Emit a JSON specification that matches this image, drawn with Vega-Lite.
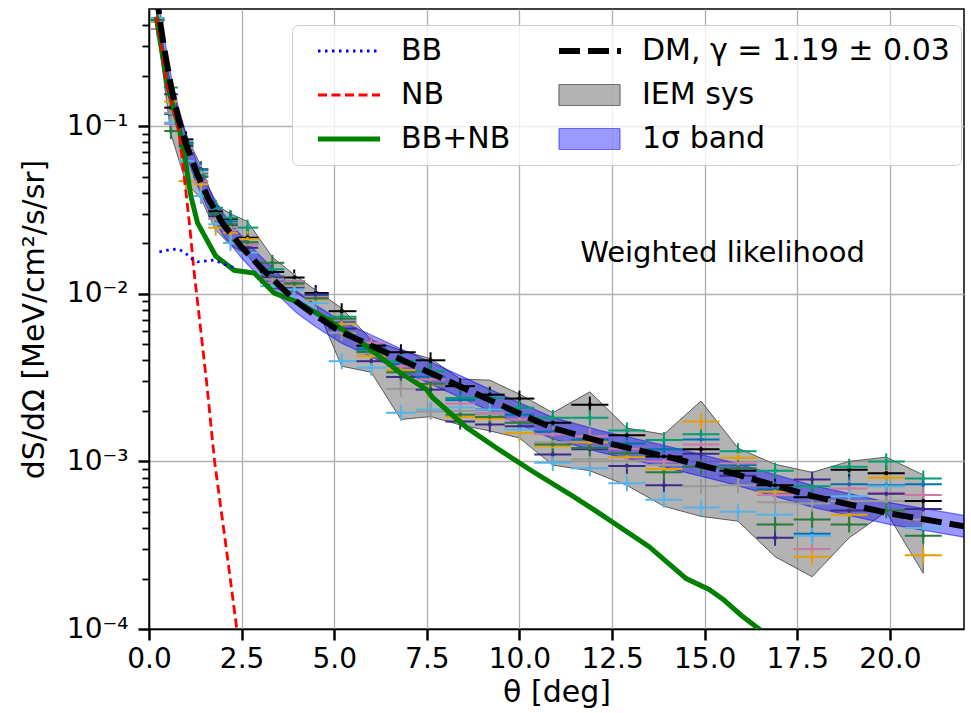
{
  "$schema": "https://vega.github.io/schema/vega-lite/v6.json",
  "autosize": {"type": "none"},
  "padding": {"left": 149, "top": 9, "right": 7, "bottom": 84},
  "width": 815,
  "height": 620,
  "background": "white",
  "config": {
    "view": {"stroke": "black", "strokeWidth": 1.5},
    "font": "DejaVu Sans",
    "axis": {"labelFont": "DejaVu Sans", "titleFont": "DejaVu Sans", "titleFontWeight": "normal", "labelColor": "black", "titleColor": "black", "tickColor": "black", "domainColor": "black", "domainWidth": 1.5, "gridColor": "#b0b0b0", "gridWidth": 1.3}
  },
  "datasets": {
    "iem": [
      {"t":0.23,"lo":0.375,"hi":0.45},{"t":0.59,"lo":0.09,"hi":0.175},{"t":1.0,"lo":0.046,"hi":0.088},{"t":1.4,"lo":0.037,"hi":0.058},
      {"t":1.8,"lo":0.024,"hi":0.034},{"t":2.2,"lo":0.0195,"hi":0.030},{"t":2.66,"lo":0.017,"hi":0.027},{"t":3.33,"lo":0.0108,"hi":0.0165},
      {"t":3.92,"lo":0.0103,"hi":0.013},{"t":4.5,"lo":0.0086,"hi":0.0105},{"t":5.2,"lo":0.0037,"hi":0.0082},{"t":6.0,"lo":0.0034,"hi":0.0053},
      {"t":6.8,"lo":0.00178,"hi":0.0046},{"t":7.6,"lo":0.00185,"hi":0.0041},{"t":8.4,"lo":0.00165,"hi":0.0031},{"t":9.2,"lo":0.00152,"hi":0.00305},
      {"t":10.0,"lo":0.00138,"hi":0.00252},{"t":10.9,"lo":0.00095,"hi":0.00195},{"t":11.9,"lo":0.00088,"hi":0.0026},{"t":12.9,"lo":0.00072,"hi":0.00158},
      {"t":13.9,"lo":0.00054,"hi":0.00145},{"t":14.9,"lo":0.00047,"hi":0.00229},{"t":15.9,"lo":0.00044,"hi":0.0012},{"t":16.9,"lo":0.00027,"hi":0.00096},
      {"t":17.9,"lo":0.000205,"hi":0.00086},{"t":18.9,"lo":0.00035,"hi":0.001},{"t":19.9,"lo":0.0005,"hi":0.00106},{"t":20.9,"lo":0.000215,"hi":0.00083}
    ],
    "band": [
      {"t":0.2,"lo":0.533,"hi":0.719},{"t":0.3,"lo":0.361,"hi":0.487},{"t":0.4,"lo":0.258,"hi":0.348},{"t":0.6,"lo":0.146,"hi":0.197},
      {"t":0.8,"lo":0.0946,"hi":0.1276},{"t":1.0,"lo":0.0671,"hi":0.0905},{"t":1.3,"lo":0.0447,"hi":0.0603},{"t":1.6,"lo":0.0318,"hi":0.0429},
      {"t":2.0,"lo":0.0224,"hi":0.0302},{"t":2.5,"lo":0.01634,"hi":0.02204},{"t":3.0,"lo":0.01247,"hi":0.01682},{"t":3.5,"lo":0.00972,"hi":0.01311},
      {"t":4.0,"lo":0.00765,"hi":0.01032},{"t":4.5,"lo":0.00636,"hi":0.00858},{"t":5.2,"lo":0.00507,"hi":0.00684},{"t":6.0,"lo":0.00421,"hi":0.00568},
      {"t":6.8,"lo":0.00348,"hi":0.0047},{"t":7.6,"lo":0.0029,"hi":0.00391},{"t":8.4,"lo":0.00241,"hi":0.00325},{"t":9.2,"lo":0.002,"hi":0.00269},
      {"t":10.0,"lo":0.00166,"hi":0.00224},{"t":10.9,"lo":0.00136,"hi":0.00183},{"t":12.16,"lo":0.001135,"hi":0.00153},{"t":13.95,"lo":0.00092,"hi":0.00124},
      {"t":15.75,"lo":0.000731,"hi":0.000986},{"t":17.91,"lo":0.000533,"hi":0.000719},{"t":19.98,"lo":0.000421,"hi":0.000568},{"t":22.0,"lo":0.000353,"hi":0.000476}
    ],
    "dm": [
      {"t":0.2,"v":0.62},{"t":0.3,"v":0.42},{"t":0.4,"v":0.30},{"t":0.6,"v":0.17},{"t":0.8,"v":0.11},{"t":1.0,"v":0.078},{"t":1.3,"v":0.052},
      {"t":1.6,"v":0.037},{"t":2.0,"v":0.026},{"t":2.5,"v":0.019},{"t":3.0,"v":0.0145},{"t":3.5,"v":0.0113},{"t":4.0,"v":0.0089},{"t":4.5,"v":0.0074},
      {"t":5.2,"v":0.0059},{"t":6.0,"v":0.0049},{"t":6.8,"v":0.00405},{"t":7.6,"v":0.00337},{"t":8.4,"v":0.0028},{"t":9.2,"v":0.00232},
      {"t":10.0,"v":0.00193},{"t":10.9,"v":0.00158},{"t":12.16,"v":0.00132},{"t":13.95,"v":0.00107},{"t":15.75,"v":0.00085},{"t":17.91,"v":0.00062},
      {"t":19.98,"v":0.00049},{"t":22.0,"v":0.00041}
    ],
    "bbnb": [
      {"t":0.2,"v":0.45},{"t":0.23,"v":0.40},{"t":0.5,"v":0.173},{"t":0.82,"v":0.096},{"t":0.99,"v":0.0605},{"t":1.13,"v":0.0383},{"t":1.31,"v":0.0265},
      {"t":1.8,"v":0.0168},{"t":2.3,"v":0.0138},{"t":2.84,"v":0.0133},{"t":3.38,"v":0.0101},{"t":3.83,"v":0.00925},{"t":4.06,"v":0.0088},{"t":4.96,"v":0.0067},
      {"t":5.86,"v":0.0049},{"t":6.76,"v":0.0034},{"t":7.48,"v":0.0027},{"t":7.66,"v":0.0024},{"t":8.56,"v":0.0016},{"t":9.46,"v":0.00117},{"t":10.36,"v":0.00087},
      {"t":11.44,"v":0.00062},{"t":12.16,"v":0.00049},{"t":13.5,"v":0.00031},{"t":14.5,"v":0.0002},{"t":15.12,"v":0.000172},{"t":15.5,"v":0.00015},
      {"t":16.0,"v":0.00012},{"t":16.6,"v":0.000095}
    ],
    "nb": [
      {"t":0.2,"v":0.45},{"t":0.5,"v":0.17},{"t":0.82,"v":0.09},{"t":0.95,"v":0.05},{"t":1.09,"v":0.0265},{"t":1.22,"v":0.0133},{"t":1.33,"v":0.0082},
      {"t":1.56,"v":0.0029},{"t":1.77,"v":0.001},{"t":2.08,"v":0.00031},{"t":2.37,"v":0.0001},{"t":2.45,"v":0.00008}
    ],
    "bb": [
      {"t":0.28,"v":0.0178},{"t":0.5,"v":0.0182},{"t":0.77,"v":0.0185},{"t":0.95,"v":0.0178},{"t":1.13,"v":0.0163},{"t":1.31,"v":0.0155},
      {"t":1.76,"v":0.0159},{"t":2.07,"v":0.0149},{"t":2.3,"v":0.0143}
    ],
    "bins": [
      {"b":0,"t":0.23,"lo":0.05,"hi":0.41},{"b":1,"t":0.59,"lo":0.41,"hi":0.78},{"b":2,"t":1.0,"lo":0.8,"hi":1.2},{"b":3,"t":1.4,"lo":1.2,"hi":1.6},
      {"b":4,"t":1.8,"lo":1.6,"hi":2.0},{"b":5,"t":2.2,"lo":2.0,"hi":2.4},{"b":6,"t":2.66,"lo":2.4,"hi":2.95},{"b":7,"t":3.33,"lo":3.0,"hi":3.65},
      {"b":8,"t":3.92,"lo":3.65,"hi":4.2},{"b":9,"t":4.5,"lo":4.2,"hi":4.85},{"b":10,"t":5.2,"lo":4.85,"hi":5.6},{"b":11,"t":6.0,"lo":5.6,"hi":6.4},
      {"b":12,"t":6.8,"lo":6.4,"hi":7.2},{"b":13,"t":7.6,"lo":7.2,"hi":8.0},{"b":14,"t":8.4,"lo":8.0,"hi":8.8},{"b":15,"t":9.2,"lo":8.8,"hi":9.6},
      {"b":16,"t":10.0,"lo":9.6,"hi":10.4},{"b":17,"t":10.9,"lo":10.4,"hi":11.4},{"b":18,"t":11.9,"lo":11.4,"hi":12.4},{"b":19,"t":12.9,"lo":12.4,"hi":13.4},
      {"b":20,"t":13.9,"lo":13.4,"hi":14.4},{"b":21,"t":14.9,"lo":14.4,"hi":15.4},{"b":22,"t":15.9,"lo":15.4,"hi":16.4},{"b":23,"t":16.9,"lo":16.4,"hi":17.4},
      {"b":24,"t":17.9,"lo":17.4,"hi":18.4},{"b":25,"t":18.9,"lo":18.4,"hi":19.4},{"b":26,"t":19.9,"lo":19.4,"hi":20.4},{"b":27,"t":20.9,"lo":20.4,"hi":21.4}
    ],
    "pts": [
      {"b":0,"m":"K","v":0.43},{"b":0,"m":"T","v":0.44},{"b":0,"m":"B","v":0.44},{"b":0,"m":"P","v":0.38},{"b":0,"m":"O","v":0.42},{"b":0,"m":"U","v":0.43},{"b":0,"m":"S","v":0.44},{"b":0,"m":"G","v":0.42},{"b":0,"m":"D","v":0.43},
      {"b":1,"m":"K","v":0.129},{"b":1,"m":"T","v":0.17},{"b":1,"m":"B","v":0.118},{"b":1,"m":"P","v":0.103},{"b":1,"m":"O","v":0.14},{"b":1,"m":"U","v":0.155},{"b":1,"m":"S","v":0.105},{"b":1,"m":"G","v":0.12},{"b":1,"m":"D","v":0.0935},
      {"b":2,"m":"K","v":0.0834},{"b":2,"m":"T","v":0.0796},{"b":2,"m":"B","v":0.08},{"b":2,"m":"P","v":0.071},{"b":2,"m":"O","v":0.047},{"b":2,"m":"U","v":0.076},{"b":2,"m":"S","v":0.062},{"b":2,"m":"G","v":0.074},{"b":2,"m":"D","v":0.078},
      {"b":3,"m":"K","v":0.0552},{"b":3,"m":"T","v":0.052},{"b":3,"m":"B","v":0.055},{"b":3,"m":"P","v":0.047},{"b":3,"m":"O","v":0.045},{"b":3,"m":"U","v":0.05},{"b":3,"m":"S","v":0.0383},{"b":3,"m":"G","v":0.053},{"b":3,"m":"D","v":0.05},
      {"b":4,"m":"K","v":0.031},{"b":4,"m":"T","v":0.0326},{"b":4,"m":"B","v":0.030},{"b":4,"m":"P","v":0.028},{"b":4,"m":"O","v":0.0248},{"b":4,"m":"U","v":0.029},{"b":4,"m":"S","v":0.026},{"b":4,"m":"G","v":0.028},{"b":4,"m":"D","v":0.03},
      {"b":5,"m":"K","v":0.028},{"b":5,"m":"T","v":0.0284},{"b":5,"m":"B","v":0.027},{"b":5,"m":"P","v":0.024},{"b":5,"m":"O","v":0.0231},{"b":5,"m":"U","v":0.0253},{"b":5,"m":"S","v":0.0201},{"b":5,"m":"G","v":0.025},{"b":5,"m":"D","v":0.026},
      {"b":6,"m":"K","v":0.0216},{"b":6,"m":"T","v":0.0248},{"b":6,"m":"B","v":0.0201},{"b":6,"m":"P","v":0.0195},{"b":6,"m":"O","v":0.0212},{"b":6,"m":"U","v":0.0188},{"b":6,"m":"S","v":0.0176},{"b":6,"m":"G","v":0.02},{"b":6,"m":"D","v":0.0203},
      {"b":7,"m":"K","v":0.0135},{"b":7,"m":"T","v":0.014},{"b":7,"m":"B","v":0.0127},{"b":7,"m":"P","v":0.0116},{"b":7,"m":"O","v":0.0125},{"b":7,"m":"U","v":0.0125},{"b":7,"m":"S","v":0.0111},{"b":7,"m":"G","v":0.0122},{"b":7,"m":"D","v":0.0153},
      {"b":8,"m":"K","v":0.0125},{"b":8,"m":"T","v":0.0118},{"b":8,"m":"B","v":0.0119},{"b":8,"m":"P","v":0.0119},{"b":8,"m":"O","v":0.0112},{"b":8,"m":"U","v":0.0109},{"b":8,"m":"S","v":0.0106},{"b":8,"m":"G","v":0.0111},{"b":8,"m":"D","v":0.0115},
      {"b":9,"m":"K","v":0.0101},{"b":9,"m":"T","v":0.0095},{"b":9,"m":"B","v":0.0097},{"b":9,"m":"P","v":0.0096},{"b":9,"m":"O","v":0.0092},{"b":9,"m":"U","v":0.0099},{"b":9,"m":"S","v":0.0088},{"b":9,"m":"G","v":0.0093},{"b":9,"m":"D","v":0.0094},
      {"b":10,"m":"K","v":0.00787},{"b":10,"m":"T","v":0.0073},{"b":10,"m":"B","v":0.0068},{"b":10,"m":"P","v":0.00695},{"b":10,"m":"O","v":0.0066},{"b":10,"m":"U","v":0.0062},{"b":10,"m":"S","v":0.00396},{"b":10,"m":"G","v":0.00585},{"b":10,"m":"D","v":0.0071},
      {"b":11,"m":"K","v":0.0049},{"b":11,"m":"T","v":0.00465},{"b":11,"m":"B","v":0.0047},{"b":11,"m":"P","v":0.0051},{"b":11,"m":"O","v":0.00424},{"b":11,"m":"U","v":0.00396},{"b":11,"m":"S","v":0.00362},{"b":11,"m":"G","v":0.0044},{"b":11,"m":"D","v":0.0045},
      {"b":12,"m":"K","v":0.00448},{"b":12,"m":"T","v":0.00396},{"b":12,"m":"B","v":0.0038},{"b":12,"m":"P","v":0.0037},{"b":12,"m":"O","v":0.0035},{"b":12,"m":"U","v":0.00319},{"b":12,"m":"S","v":0.00195},{"b":12,"m":"G","v":0.00271},{"b":12,"m":"D","v":0.0034},
      {"b":13,"m":"K","v":0.00401},{"b":13,"m":"T","v":0.00345},{"b":13,"m":"B","v":0.0032},{"b":13,"m":"P","v":0.00308},{"b":13,"m":"O","v":0.00288},{"b":13,"m":"U","v":0.00268},{"b":13,"m":"S","v":0.00204},{"b":13,"m":"G","v":0.00198},{"b":13,"m":"D","v":0.0029},
      {"b":14,"m":"K","v":0.00281},{"b":14,"m":"T","v":0.00239},{"b":14,"m":"B","v":0.00232},{"b":14,"m":"P","v":0.00221},{"b":14,"m":"O","v":0.00184},{"b":14,"m":"U","v":0.00173},{"b":14,"m":"S","v":0.0021},{"b":14,"m":"G","v":0.002},{"b":14,"m":"D","v":0.0019},
      {"b":15,"m":"K","v":0.0025},{"b":15,"m":"T","v":0.00239},{"b":15,"m":"B","v":0.00204},{"b":15,"m":"P","v":0.00195},{"b":15,"m":"O","v":0.0018},{"b":15,"m":"U","v":0.00166},{"b":15,"m":"S","v":0.00204},{"b":15,"m":"G","v":0.0019},{"b":15,"m":"D","v":0.00184},
      {"b":16,"m":"K","v":0.00237},{"b":16,"m":"T","v":0.00209},{"b":16,"m":"B","v":0.0019},{"b":16,"m":"P","v":0.00178},{"b":16,"m":"O","v":0.00148},{"b":16,"m":"U","v":0.00162},{"b":16,"m":"S","v":0.00155},{"b":16,"m":"G","v":0.0017},{"b":16,"m":"D","v":0.0017},
      {"b":17,"m":"K","v":0.0017},{"b":17,"m":"T","v":0.00182},{"b":17,"m":"B","v":0.0015},{"b":17,"m":"P","v":0.00145},{"b":17,"m":"O","v":0.00123},{"b":17,"m":"U","v":0.0011},{"b":17,"m":"S","v":0.00098},{"b":17,"m":"G","v":0.0013},{"b":17,"m":"D","v":0.00126},
      {"b":18,"m":"K","v":0.00218},{"b":18,"m":"T","v":0.00182},{"b":18,"m":"B","v":0.00135},{"b":18,"m":"P","v":0.00141},{"b":18,"m":"O","v":0.0013},{"b":18,"m":"U","v":0.00118},{"b":18,"m":"S","v":0.00091},{"b":18,"m":"G","v":0.00103},{"b":18,"m":"D","v":0.0012},
      {"b":19,"m":"K","v":0.00143},{"b":19,"m":"T","v":0.00153},{"b":19,"m":"B","v":0.00128},{"b":19,"m":"P","v":0.00119},{"b":19,"m":"O","v":0.00106},{"b":19,"m":"U","v":0.00094},{"b":19,"m":"S","v":0.00074},{"b":19,"m":"G","v":0.00101},{"b":19,"m":"D","v":0.00112},
      {"b":20,"m":"K","v":0.00107},{"b":20,"m":"T","v":0.00134},{"b":20,"m":"B","v":0.00118},{"b":20,"m":"P","v":0.001},{"b":20,"m":"O","v":0.0009},{"b":20,"m":"U","v":0.00072},{"b":20,"m":"S","v":0.00059},{"b":20,"m":"G","v":0.00095},{"b":20,"m":"D","v":0.00086},
      {"b":21,"m":"K","v":0.00118},{"b":21,"m":"T","v":0.00145},{"b":21,"m":"B","v":0.00135},{"b":21,"m":"P","v":0.00126},{"b":21,"m":"O","v":0.00173},{"b":21,"m":"U","v":0.00111},{"b":21,"m":"S","v":0.00053},{"b":21,"m":"G","v":0.00071},{"b":21,"m":"D","v":0.00093},
      {"b":22,"m":"K","v":0.00088},{"b":22,"m":"T","v":0.00115},{"b":22,"m":"B","v":0.00095},{"b":22,"m":"P","v":0.00097},{"b":22,"m":"O","v":0.00105},{"b":22,"m":"U","v":0.00082},{"b":22,"m":"S","v":0.0005},{"b":22,"m":"G","v":0.00072},{"b":22,"m":"D","v":0.00091},
      {"b":23,"m":"K","v":0.00072},{"b":23,"m":"T","v":0.00088},{"b":23,"m":"B","v":0.00068},{"b":23,"m":"P","v":0.00063},{"b":23,"m":"O","v":0.00066},{"b":23,"m":"U","v":0.00035},{"b":23,"m":"S","v":0.00048},{"b":23,"m":"G","v":0.00057},{"b":23,"m":"D","v":0.00042},
      {"b":24,"m":"K","v":0.00061},{"b":24,"m":"T","v":0.00071},{"b":24,"m":"B","v":0.00037},{"b":24,"m":"P","v":0.0003},{"b":24,"m":"O","v":0.00027},{"b":24,"m":"U","v":0.00078},{"b":24,"m":"S","v":0.00036},{"b":24,"m":"G","v":0.00056},{"b":24,"m":"D","v":0.00045},
      {"b":25,"m":"K","v":0.00089},{"b":25,"m":"T","v":0.00093},{"b":25,"m":"B","v":0.00073},{"b":25,"m":"P","v":0.00069},{"b":25,"m":"O","v":0.00048},{"b":25,"m":"U","v":0.00051},{"b":25,"m":"S","v":0.00062},{"b":25,"m":"G","v":0.00058},{"b":25,"m":"D","v":0.00042},
      {"b":26,"m":"K","v":0.00085},{"b":26,"m":"T","v":0.001},{"b":26,"m":"B","v":0.00072},{"b":26,"m":"P","v":0.00065},{"b":26,"m":"O","v":0.0008},{"b":26,"m":"U","v":0.00064},{"b":26,"m":"S","v":0.00071},{"b":26,"m":"G","v":0.00058},{"b":26,"m":"D","v":0.00051},
      {"b":27,"m":"K","v":0.00058},{"b":27,"m":"T","v":0.00079},{"b":27,"m":"B","v":0.00073},{"b":27,"m":"P","v":0.00063},{"b":27,"m":"O","v":0.000275},{"b":27,"m":"U","v":0.00052},{"b":27,"m":"S","v":0.0004},{"b":27,"m":"G","v":0.00045},{"b":27,"m":"D","v":0.00036}
    ]
  },
  "layer": [
    {
      "data": {"name": "iem"},
      "mark": {"type": "area", "fill": "#808080", "fillOpacity": 0.6, "stroke": "#5a5a5a", "strokeWidth": 1, "clip": true},
      "encoding": {
        "x": {"field": "t", "type": "quantitative", "scale": {"domain": [0, 22], "nice": false, "zero": false},
          "axis": {"title": "θ [deg]", "values": [0, 2.5, 5, 7.5, 10, 12.5, 15, 17.5, 20], "format": ".1f", "grid": true,
            "tickSize": 11, "tickWidth": 2.5, "labelFontSize": 28, "labelPadding": 5, "titleFontSize": 30, "titlePadding": 4, "labelFlush": false, "labelOverlap": false}},
        "y": {"field": "lo", "type": "quantitative", "scale": {"type": "log", "domain": [0.0001, 0.5], "nice": false},
          "axis": {"title": "dS/dΩ [MeV/cm²/s/sr]", "grid": true, "labelOverlap": false, "labelFlush": false, "labelBound": false,
            "values": [0.0001,0.0002,0.0003,0.0004,0.0005,0.0006,0.0007,0.0008,0.0009,0.001,0.002,0.003,0.004,0.005,0.006,0.007,0.008,0.009,0.01,0.02,0.03,0.04,0.05,0.06,0.07,0.08,0.09,0.1,0.2,0.3,0.4],
            "labelExpr": "abs(log(datum.value)/LN10 - round(log(datum.value)/LN10)) < 0.001 ? (round(log(datum.value)/LN10) == -1 ? '10⁻¹' : round(log(datum.value)/LN10) == -2 ? '10⁻²' : round(log(datum.value)/LN10) == -3 ? '10⁻³' : '10⁻⁴') : ''",
            "tickSize": {"condition": {"test": "abs(log(datum.value)/LN10 - round(log(datum.value)/LN10)) < 0.001", "value": 11}, "value": 7},
            "tickWidth": {"condition": {"test": "abs(log(datum.value)/LN10 - round(log(datum.value)/LN10)) < 0.001", "value": 2.5}, "value": 1.8},
            "gridOpacity": {"condition": {"test": "abs(log(datum.value)/LN10 - round(log(datum.value)/LN10)) < 0.001", "value": 1}, "value": 0},
            "labelFontSize": 28, "labelPadding": 10, "titleFontSize": 30, "titlePadding": 17}},
        "y2": {"field": "hi"}
      }
    },
    {
      "data": {"name": "band"},
      "mark": {"type": "area", "fill": "#0000ff", "fillOpacity": 0.4, "stroke": "#0000ff", "strokeOpacity": 0.5, "strokeWidth": 1.2, "clip": true},
      "encoding": {
        "x": {"field": "t", "type": "quantitative"},
        "y": {"field": "lo", "type": "quantitative"},
        "y2": {"field": "hi"}
      }
    },
    {
      "data": {"name": "pts"},
      "transform": [{"lookup": "b", "from": {"data": {"name": "bins"}, "key": "b", "fields": ["t", "lo", "hi"]}}],
      "layer": [
        {
          "mark": {"type": "rule", "strokeWidth": 2, "clip": true},
          "encoding": {
            "x": {"field": "lo", "type": "quantitative"},
            "x2": {"field": "hi"},
            "y": {"field": "v", "type": "quantitative"},
            "color": {"field": "m", "type": "nominal", "legend": null,
              "scale": {"domain": ["K","T","B","P","O","U","S","G","D"], "range": ["#000000","#009e73","#0072b2","#cc79a7","#e69f00","#3c2a8a","#56b4e9","#999999","#2b7a3b"]}}
          }
        },
        {
          "mark": {"type": "point", "shape": "M0,-1L0,1", "size": 256, "filled": false, "strokeWidth": 2, "opacity": 1, "clip": true},
          "encoding": {
            "x": {"field": "t", "type": "quantitative"},
            "y": {"field": "v", "type": "quantitative"},
            "color": {"field": "m", "type": "nominal", "legend": null}
          }
        },
        {
          "mark": {"type": "point", "shape": "circle", "size": 18, "filled": true, "opacity": 1, "clip": true},
          "encoding": {
            "x": {"field": "t", "type": "quantitative"},
            "y": {"field": "v", "type": "quantitative"},
            "color": {"field": "m", "type": "nominal", "legend": null}
          }
        }
      ]
    },
    {
      "data": {"name": "bbnb"},
      "mark": {"type": "line", "strokeWidth": 5, "clip": true},
      "encoding": {
        "x": {"field": "t", "type": "quantitative"},
        "y": {"field": "v", "type": "quantitative"},
        "stroke": {"datum": "BB+NB", "type": "nominal",
          "scale": {"domain": ["BB", "NB", "BB+NB", "DM, γ = 1.19 ± 0.03", "IEM sys", "1σ band"], "range": ["#0000ff", "#ff0000", "#008000", "#000000", "#6e6e6e", "rgba(0,0,255,0.5)"]},
          "legend": {"orient": "none", "legendX": 143, "legendY": 16, "columns": 2, "columnPadding": 33, "rowPadding": 14,
            "symbolSize": 400, "symbolStrokeWidth": 1.5, "labelOffset": 68, "labelFontSize": 30, "labelFont": "DejaVu Sans", "labelColor": "black", "labelLimit": 600,
            "title": null, "padding": 11, "fillColor": "rgba(255,255,255,0.8)", "strokeColor": "#cccccc", "cornerRadius": 6, "symbolOpacity": 1,
            "encode": {"symbols": {"update": {
              "shape": {"signal": "(datum.value === 'IEM sys' || datum.value === '1σ band') ? 'M0,-1.05H6.1V1.05H0Z' : 'M0,0H6.2'"},
              "fill": {"signal": "datum.value === 'IEM sys' ? 'rgba(128,128,128,0.6)' : datum.value === '1σ band' ? 'rgba(0,0,255,0.4)' : 'transparent'"},
              "strokeDash": {"signal": "datum.value === 'BB' ? [2.5,4.5] : datum.value === 'NB' ? [9,4.5] : datum.value === 'DM, γ = 1.19 ± 0.03' ? [21,8] : [1,0]"},
              "strokeWidth": {"signal": "datum.value === 'BB+NB' ? 5 : datum.value === 'DM, γ = 1.19 ± 0.03' ? 6 : (datum.value === 'IEM sys' || datum.value === '1σ band') ? 1.2 : 2.8"},
              "opacity": {"value": 1}
            }}}
          }
        }
      }
    },
    {
      "data": {"name": "nb"},
      "mark": {"type": "line", "strokeWidth": 2.8, "strokeDash": [9, 4.5], "clip": true},
      "encoding": {
        "x": {"field": "t", "type": "quantitative"},
        "y": {"field": "v", "type": "quantitative"},
        "stroke": {"datum": "NB", "type": "nominal"}
      }
    },
    {
      "data": {"name": "bb"},
      "mark": {"type": "line", "strokeWidth": 2.8, "strokeDash": [2.5, 4.5], "clip": true},
      "encoding": {
        "x": {"field": "t", "type": "quantitative"},
        "y": {"field": "v", "type": "quantitative"},
        "stroke": {"datum": "BB", "type": "nominal"}
      }
    },
    {
      "data": {"name": "dm"},
      "mark": {"type": "line", "strokeWidth": 6, "strokeDash": [21, 8], "clip": true},
      "encoding": {
        "x": {"field": "t", "type": "quantitative"},
        "y": {"field": "v", "type": "quantitative"},
        "stroke": {"datum": "DM, γ = 1.19 ± 0.03", "type": "nominal"}
      }
    },
    {
      "data": {"values": [{}]},
      "mark": {"type": "text", "align": "left", "baseline": "alphabetic", "fontSize": 29, "font": "DejaVu Sans", "color": "black"},
      "encoding": {
        "x": {"datum": 11.64, "type": "quantitative"},
        "y": {"datum": 0.01545, "type": "quantitative"},
        "text": {"value": "Weighted likelihood"}
      }
    }
  ]
}
